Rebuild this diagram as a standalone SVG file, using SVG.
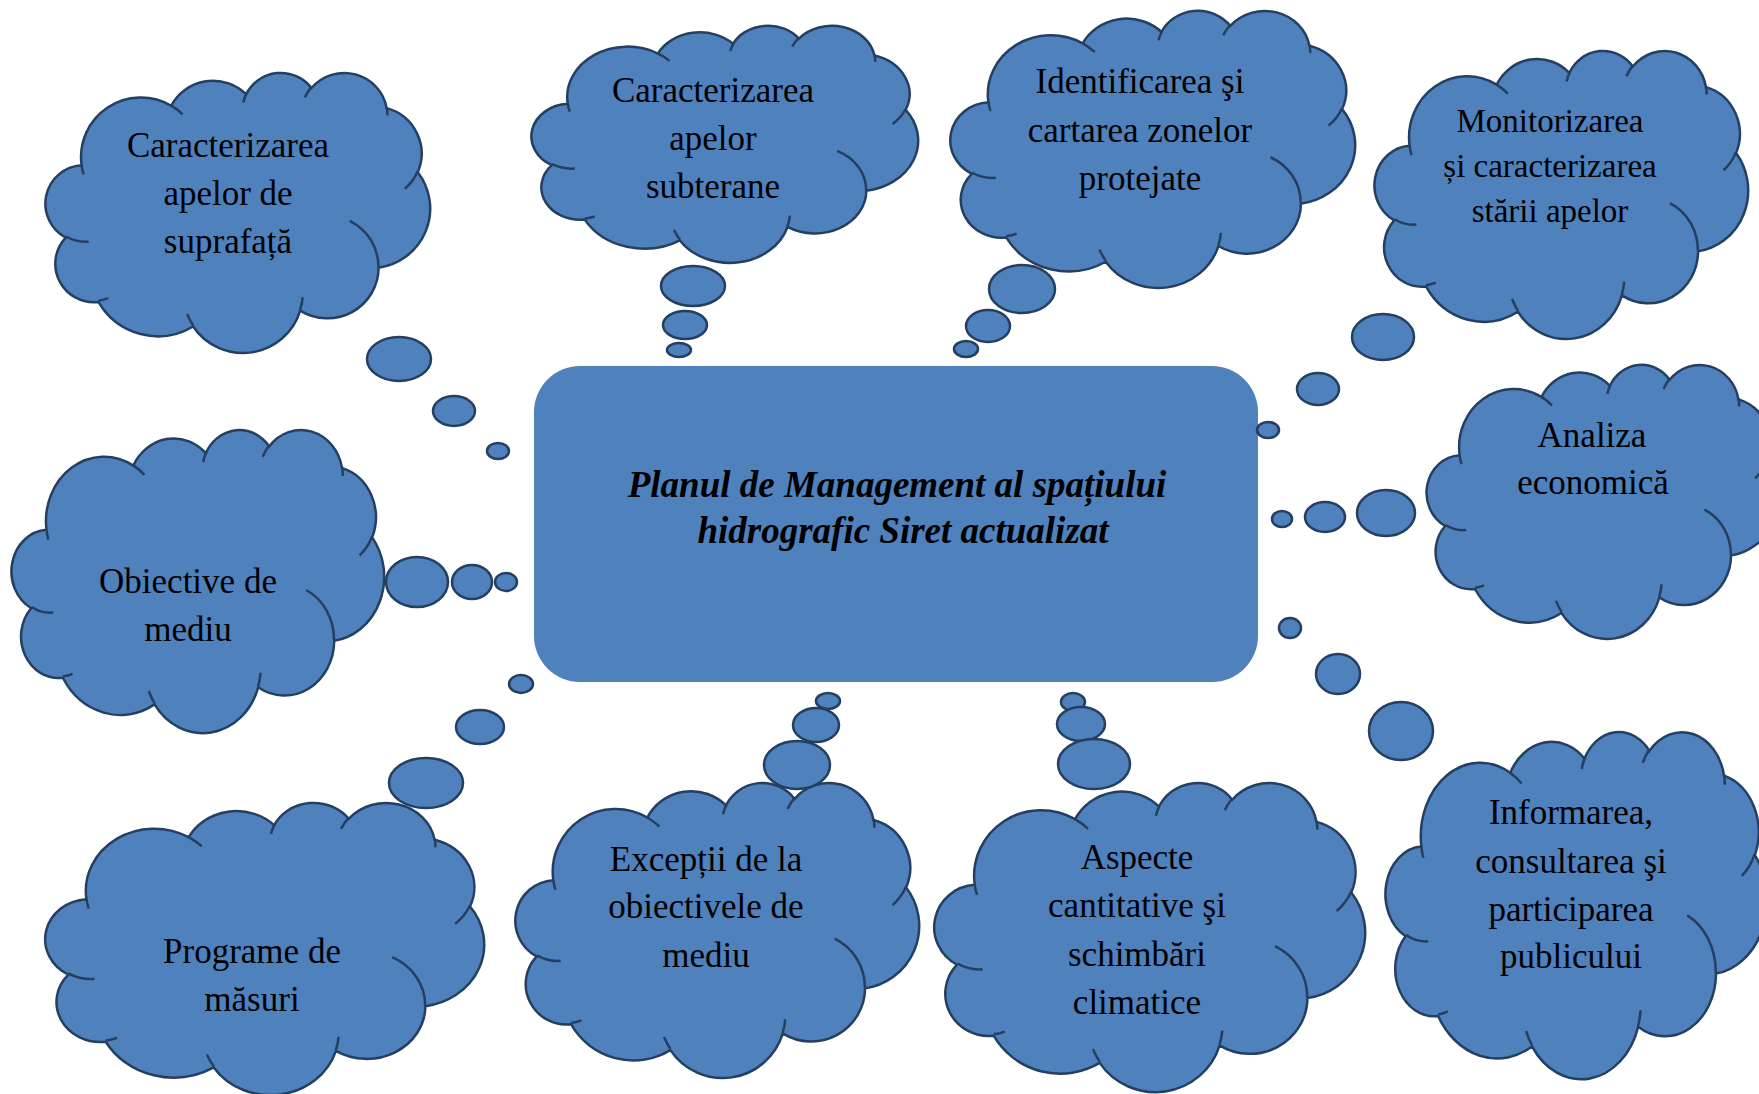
<svg xmlns="http://www.w3.org/2000/svg" xmlns:xlink="http://www.w3.org/1999/xlink" width="1759" height="1094" viewBox="0 0 1759 1094">
  <style>
    .cloud { fill: #4F81BD; stroke: #243F60; stroke-width: 2.5; }
    .crease { fill: none; stroke: #243F60; stroke-width: 2.5; }
    .bubble { fill: #4F81BD; stroke: #243F60; stroke-width: 2.5; }
    .lbl { font-family: "Liberation Serif", "DejaVu Serif", serif; font-size: 35px; fill: #000; text-anchor: middle; }
    .lbl-s { font-size: 33px; }
    .title { font-family: "Liberation Serif", "DejaVu Serif", serif; font-size: 37px; font-weight: bold; font-style: italic; fill: #000; text-anchor: middle; }
  </style>
  <defs>
    <!-- cloud outline in a 432 x 432 box, scaled per node -->
    <path id="cloudShape" vector-effect="non-scaling-stroke" d="M39 143.7 A67.53 91.9 0 0 1 140.05 52.02 A53.33 72.67 0 0 1 224.55 34.3 A43.65 59.45 0 0 1 298.32 24.77 A48.57 65.95 0 0 1 383.17 55.72 A53.33 72.73 0 0 1 418.18 154.56 A67.75 92.2 0 0 1 374.05 302.02 A57.85 78.67 0 0 1 285.57 368.12 A67.52 92.15 0 0 1 164.82 392.65 A77.2 105.43 0 0 1 58.06 354.7 A43.6 59.18 0 0 1 21.15 255.47 A43.45 59.45 0 0 1 39 143.7 Z"/>
    <!-- inner crease strokes of the cloud -->
    <path id="cloudCrease" vector-effect="non-scaling-stroke" d="M46.93 261.77 A43.45 59.45 0 0 1 21.6 253.8 M69.28 348.99 A43.6 59.18 0 0 1 58.2 352.8 M164.78 390.9 A67.52 92.15 0 0 1 158.1 373.49 M288.27 347.51 A67.52 92.15 0 0 1 285.61 366.6 M341.29 229.54 A57.85 78.67 0 0 1 373.81 300.9 M417.98 153.54 A53.33 72.73 0 0 1 403.5 180.3 M383.24 54.26 A48.57 65.95 0 0 1 384 66.9 M290.78 39.52 A48.57 65.95 0 0 1 298.2 23.4 M221.41 47.2 A43.65 59.45 0 0 1 225 33.31 M140 51.92 A67.53 91.9 0 0 1 153 65.41 M41.27 157.89 A67.53 91.9 0 0 1 39 143.71"/>
  </defs>

  <!-- central topic -->
  <g id="center">
    <rect x="534" y="366" width="724" height="316" rx="46" ry="46" fill="#4F81BD"/>
    <text class="title" x="897" y="497">Planul de Management al spațiului</text>
    <text class="title" x="903" y="543">hidrografic Siret actualizat</text>
  </g>

  <!-- thought-bubble trails linking each cloud to the central topic -->
  <g id="connectors">
    <g id="trail-surface">
      <ellipse class="bubble" cx="399" cy="359" rx="32" ry="22"/>
      <ellipse class="bubble" cx="454" cy="411" rx="21" ry="15"/>
      <ellipse class="bubble" cx="498" cy="451" rx="11" ry="8"/>
    </g>
    <g id="trail-ground">
      <ellipse class="bubble" cx="693" cy="286" rx="32" ry="20"/>
      <ellipse class="bubble" cx="685" cy="325" rx="22" ry="14"/>
      <ellipse class="bubble" cx="679" cy="350" rx="12" ry="7"/>
    </g>
    <g id="trail-protected">
      <ellipse class="bubble" cx="1022" cy="289" rx="33" ry="24"/>
      <ellipse class="bubble" cx="988" cy="326" rx="22" ry="16"/>
      <ellipse class="bubble" cx="966" cy="349" rx="12" ry="8"/>
    </g>
    <g id="trail-monitoring">
      <ellipse class="bubble" cx="1383" cy="337" rx="31" ry="23"/>
      <ellipse class="bubble" cx="1318" cy="389" rx="21" ry="16"/>
      <ellipse class="bubble" cx="1268" cy="430" rx="11" ry="8"/>
    </g>
    <g id="trail-economic">
      <ellipse class="bubble" cx="1386" cy="513" rx="29" ry="23"/>
      <ellipse class="bubble" cx="1325" cy="517" rx="20" ry="15"/>
      <ellipse class="bubble" cx="1282" cy="519" rx="10" ry="8"/>
    </g>
    <g id="trail-objectives">
      <ellipse class="bubble" cx="417" cy="582" rx="31" ry="25"/>
      <ellipse class="bubble" cx="472" cy="582" rx="20" ry="17"/>
      <ellipse class="bubble" cx="506" cy="582" rx="11" ry="9"/>
    </g>
    <g id="trail-programmes">
      <ellipse class="bubble" cx="521" cy="684" rx="12" ry="9"/>
      <ellipse class="bubble" cx="480" cy="727" rx="24" ry="17"/>
    </g>
    <g id="trail-exceptions">
      <ellipse class="bubble" cx="828" cy="701" rx="12" ry="8"/>
      <ellipse class="bubble" cx="816" cy="725" rx="23" ry="17"/>
    </g>
    <g id="trail-climate">
      <ellipse class="bubble" cx="1073" cy="702" rx="12" ry="9"/>
      <ellipse class="bubble" cx="1081" cy="724" rx="24" ry="17"/>
    </g>
    <g id="trail-public">
      <ellipse class="bubble" cx="1290" cy="628" rx="11" ry="10"/>
      <ellipse class="bubble" cx="1338" cy="674" rx="22" ry="20"/>
    </g>
  </g>

  <g id="node-surface">
    <g transform="translate(47 72) scale(0.88657 0.64815)"><use xlink:href="#cloudShape" class="cloud"/><use xlink:href="#cloudCrease" class="crease"/></g>
    <text class="lbl" x="228" y="157">Caracterizarea</text>
    <text class="lbl" x="228" y="205">apelor de</text>
    <text class="lbl" x="228" y="253">suprafață</text>
  </g>

  <g id="node-ground">
    <g transform="translate(533 25) scale(0.8912 0.54861)"><use xlink:href="#cloudShape" class="cloud"/><use xlink:href="#cloudCrease" class="crease"/></g>
    <text class="lbl" x="713" y="102">Caracterizarea</text>
    <text class="lbl" x="713" y="150">apelor</text>
    <text class="lbl" x="713" y="198">subterane</text>
  </g>

  <g id="node-protected">
    <g transform="translate(952 10) scale(0.93287 0.6412)"><use xlink:href="#cloudShape" class="cloud"/><use xlink:href="#cloudCrease" class="crease"/></g>
    <text class="lbl" x="1140" y="93">Identificarea şi</text>
    <text class="lbl" x="1140" y="142">cartarea zonelor</text>
    <text class="lbl" x="1140" y="190">protejate</text>
  </g>

  <g id="node-monitoring">
    <g transform="translate(1376 50) scale(0.86111 0.66667)"><use xlink:href="#cloudShape" class="cloud"/><use xlink:href="#cloudCrease" class="crease"/></g>
    <text class="lbl lbl-s" x="1550" y="132">Monitorizarea</text>
    <text class="lbl lbl-s" x="1550" y="177">și caracterizarea</text>
    <text class="lbl lbl-s" x="1550" y="222">stării apelor</text>
  </g>

  <g id="node-economic">
    <g transform="translate(1428 364) scale(0.81019 0.63426)"><use xlink:href="#cloudShape" class="cloud"/><use xlink:href="#cloudCrease" class="crease"/></g>
    <text class="lbl" x="1592" y="447">Analiza</text>
    <text class="lbl" x="1593" y="494">economică</text>
  </g>

  <g id="node-objectives">
    <g transform="translate(13 429) scale(0.8588 0.70139)"><use xlink:href="#cloudShape" class="cloud"/><use xlink:href="#cloudCrease" class="crease"/></g>
    <text class="lbl" x="188" y="593">Obiective de</text>
    <text class="lbl" x="188" y="641">mediu</text>
  </g>

  <g id="node-programmes">
    <g transform="translate(47 802) scale(1.01157 0.67593)"><use xlink:href="#cloudShape" class="cloud"/><use xlink:href="#cloudCrease" class="crease"/></g>
    <ellipse class="bubble" cx="426" cy="783" rx="37" ry="25"/>
    <text class="lbl" x="252" y="963">Programe de</text>
    <text class="lbl" x="252" y="1011">măsuri</text>
  </g>

  <g id="node-exceptions">
    <g transform="translate(517 782) scale(0.93056 0.68287)"><use xlink:href="#cloudShape" class="cloud"/><use xlink:href="#cloudCrease" class="crease"/></g>
    <ellipse class="bubble" cx="797" cy="765" rx="33" ry="24"/>
    <text class="lbl" x="706" y="871">Excepții de la</text>
    <text class="lbl" x="706" y="918">obiectivele de</text>
    <text class="lbl" x="706" y="967">mediu</text>
  </g>

  <g id="node-climate">
    <g transform="translate(936 782) scale(0.99306 0.71528)"><use xlink:href="#cloudShape" class="cloud"/><use xlink:href="#cloudCrease" class="crease"/></g>
    <ellipse class="bubble" cx="1094" cy="764" rx="36" ry="25"/>
    <text class="lbl" x="1137" y="869">Aspecte</text>
    <text class="lbl" x="1137" y="917">cantitative şi</text>
    <text class="lbl" x="1137" y="966">schimbări</text>
    <text class="lbl" x="1137" y="1014">climatice</text>
  </g>

  <g id="node-public">
    <g transform="translate(1387 731) scale(0.87963 0.80324)"><use xlink:href="#cloudShape" class="cloud"/><use xlink:href="#cloudCrease" class="crease"/></g>
    <ellipse class="bubble" cx="1401" cy="731" rx="32" ry="29"/>
    <text class="lbl" x="1571" y="824">Informarea,</text>
    <text class="lbl" x="1571" y="873">consultarea şi</text>
    <text class="lbl" x="1571" y="921">participarea</text>
    <text class="lbl" x="1571" y="968">publicului</text>
  </g>
</svg>
